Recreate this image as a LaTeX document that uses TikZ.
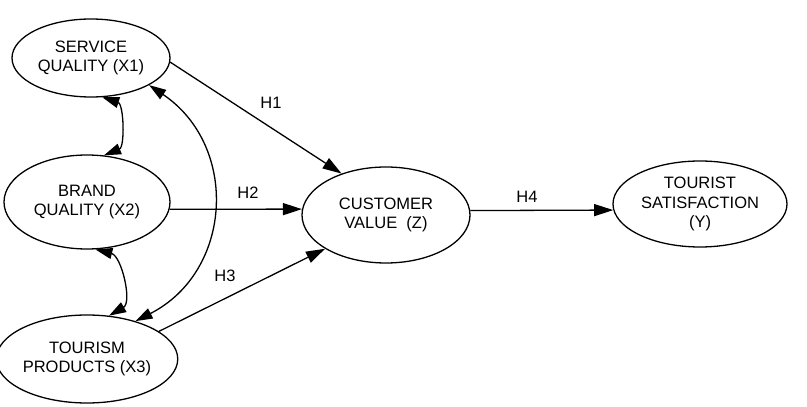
\documentclass[tikz,border=0pt]{standalone}
\usepackage{fontspec}
\setmainfont{Liberation Sans}
\usetikzlibrary{arrows.meta,shapes.geometric}
\begin{document}
\begin{tikzpicture}[x=1pt,y=1pt,
  construct/.style={ellipse,draw,line width=1.3pt,inner sep=0pt,align=center,
    font=\fontsize{16.5}{19.5}\selectfont},
  link/.style={line width=1.3pt,-{Triangle[length=19pt,width=12pt]}},
  dlink/.style={line width=1.3pt,{Triangle[length=17pt,width=11pt]}-{Triangle[length=17pt,width=11pt]}},
  hlabel/.style={font=\fontsize{16.5}{19.5}\selectfont}]
\useasboundingbox (0,0) rectangle (807,407);
\node[construct,minimum width=158pt,minimum height=78pt] (X1) at (91,349) {SERVICE\\QUALITY (X1)};
\node[construct,minimum width=166pt,minimum height=94pt] (X2) at (87,205) {BRAND\\QUALITY (X2)};
\node[construct,minimum width=168pt,minimum height=88pt] (X3) at (87,48) {TOURISM\\PRODUCTS (X3)};
\node[construct,minimum width=168pt,minimum height=96pt] (Z) at (386,192) {CUSTOMER\\VALUE~~(Z)};
\node[construct,minimum width=174pt,minimum height=86pt] (Y) at (700,203) {TOURIST\\SATISFACTION\\(Y)};
\draw[link] (X1.-3) -- (Z.137);
\draw[link] (X2.-5.5) -- (Z.176.5);
\draw[link] (X3.21) -- (Z.209);
\draw[link] (Z.3) -- (Y.184);
\draw[dlink] (X1.-74) to[out=-18,in=22,looseness=1.0] (X2.70);
\draw[dlink] (X2.-80) to[out=-14,in=30,looseness=1.02] (X3.63);
\draw[dlink] (X1.-25) to[out=-34,in=27,looseness=1.18] (X3.38);
\node[hlabel] (h1) at (271,304) {H1};
\node[hlabel] (h2) at (248,214) {H2};
\node[hlabel] (h3) at (225,131) {H3};
\node[hlabel] (h4) at (527,210) {H4};
\end{tikzpicture}
\end{document}
